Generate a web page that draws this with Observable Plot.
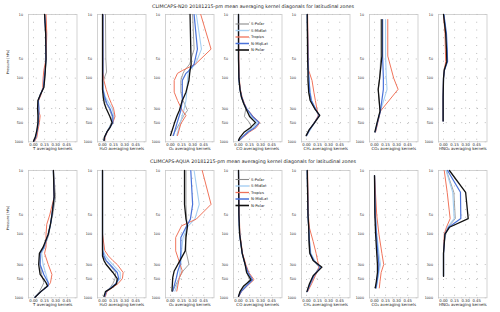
<!DOCTYPE html>
<html><head><meta charset="utf-8">
<script src="https://cdn.jsdelivr.net/npm/d3@7"></script>
<script src="https://cdn.jsdelivr.net/npm/@observablehq/plot@0.6"></script>
<style>
body{margin:0;background:#fff;}
#root{position:relative;width:500px;height:312px;background:#fff;font-family:"DejaVu Sans",sans-serif;overflow:hidden;}
.ttl{position:absolute;left:6px;width:494px;text-align:center;font-size:4.8px;line-height:5px;color:#222;white-space:nowrap;}
.pn{position:absolute;}
</style></head>
<body><div id="root"></div>
<script>
// ---------- labels ----------
const seriesNames = ["S-Polar", "S-Midlat", "Tropics", "N-MidLat", "N-Polar"];
const titles = ["CLIMCAPS-N20 20181215-pm mean averaging kernel diagonals for latitudinal zones",
                "CLIMCAPS-AQUA 20181215-pm mean averaging kernel diagonals for latitudinal zones"];
const panelLabels = ["T averaging kernels", "H\u2082O averaging kernels", "O\u2083 averaging kernels",
  "CO averaging kernels", "CH\u2084 averaging kernels", "CO\u2082 averaging kernels", "HNO\u2083 averaging kernels"];
const xTicks = [0, 0.15, 0.30, 0.45];
const yTicks = [10, 50, 100, 300, 500, 1000];

// ---------- N20 (values per series: S-Polar, S-Midlat, Tropics, N-MidLat, N-Polar) ----------
const n20_T_p = [10, 20, 50, 75, 100, 140, 185, 225, 300, 390, 500, 660, 850, 980];
const n20_T = [
  [0.16, 0.17, 0.17, 0.16, 0.15, 0.14, 0.09, 0.06, 0.06, 0.065, 0.06, 0.05, 0.03, 0.005],
  [0.16, 0.17, 0.17, 0.155, 0.145, 0.135, 0.09, 0.065, 0.065, 0.07, 0.065, 0.05, 0.035, 0.008],
  [0.17, 0.18, 0.17, 0.14, 0.13, 0.125, 0.10, 0.07, 0.06, 0.09, 0.08, 0.06, 0.045, 0.015],
  [0.15, 0.165, 0.168, 0.16, 0.145, 0.135, 0.09, 0.065, 0.075, 0.07, 0.065, 0.05, 0.03, 0.005],
  [0.15, 0.165, 0.17, 0.16, 0.153, 0.14, 0.09, 0.06, 0.055, 0.06, 0.06, 0.045, 0.023, 0.0]];
const n20_H2O_p = [10, 50, 80, 110, 150, 200, 250, 300, 400, 500, 600, 700, 850, 950];
const n20_H2O = [
  [0.04, 0.045, 0.055, 0.01, 0.005, 0.02, 0.05, 0.09, 0.13, 0.12, 0.09, 0.06, 0.03, 0.03],
  [0.01, 0.01, 0.01, 0.005, 0.01, 0.04, 0.09, 0.13, 0.16, 0.13, 0.09, 0.06, 0.03, 0.025],
  [0.005, 0.005, 0.005, 0.02, 0.05, 0.085, 0.12, 0.15, 0.17, 0.14, 0.10, 0.065, 0.035, 0.03],
  [0.005, 0.005, 0.005, 0.0, 0.005, 0.03, 0.06, 0.10, 0.14, 0.14, 0.10, 0.06, 0.03, 0.02],
  [0.0, 0.0, 0.0, 0.0, 0.0, 0.01, 0.025, 0.05, 0.10, 0.13, 0.10, 0.06, 0.025, 0.02]];
const n20_O3_p = [10, 35, 60, 76, 84, 109, 166, 224, 322, 386, 522, 796];
const n20_O3 = [
  [0.30, 0.32, 0.26, 0.19, 0.17, 0.14, 0.14, 0.17, 0.23, 0.18, 0.12, 0.03],
  [0.35, 0.42, 0.34, 0.25, 0.24, 0.23, 0.22, 0.21, 0.18, 0.16, 0.13, 0.085],
  [0.41, 0.55, 0.34, 0.16, 0.095, 0.05, 0.05, 0.095, 0.16, 0.21, 0.14, 0.095],
  [0.32, 0.365, 0.32, 0.25, 0.21, 0.16, 0.16, 0.16, 0.14, 0.12, 0.085, 0.04],
  [0.265, 0.275, 0.28, 0.265, 0.26, 0.25, 0.21, 0.16, 0.12, 0.09, 0.05, 0.0]];
const n20_CO_p = [10, 50, 100, 150, 200, 250, 300, 400, 500, 600, 700, 850, 950];
const n20_CO = [
  [0.0, 0.0, 0.005, 0.02, 0.04, 0.07, 0.10, 0.08, 0.15, 0.18, 0.12, 0.05, 0.01],
  [0.0, 0.0, 0.005, 0.02, 0.04, 0.07, 0.10, 0.17, 0.25, 0.20, 0.12, 0.05, 0.01],
  [0.0, 0.005, 0.01, 0.025, 0.05, 0.08, 0.11, 0.20, 0.29, 0.24, 0.15, 0.06, 0.015],
  [0.0, 0.0, 0.005, 0.02, 0.045, 0.075, 0.11, 0.19, 0.28, 0.22, 0.13, 0.05, 0.01],
  [0.0, 0.0, 0.005, 0.02, 0.04, 0.07, 0.10, 0.15, 0.23, 0.16, 0.08, 0.02, 0.0]];
const n20_CH4_p = [10, 50, 76, 109, 166, 224, 300, 386, 520, 650, 800];
const n20_CH4 = [
  [0.01, 0.02, 0.025, 0.025, 0.03, 0.05, 0.11, 0.17, 0.09, 0.04, 0.0],
  [0.01, 0.02, 0.025, 0.035, 0.05, 0.07, 0.12, 0.17, 0.10, 0.05, 0.0],
  [0.015, 0.025, 0.03, 0.075, 0.10, 0.12, 0.14, 0.16, 0.10, 0.04, 0.0],
  [0.01, 0.02, 0.025, 0.035, 0.045, 0.065, 0.12, 0.17, 0.10, 0.04, 0.0],
  [0.01, 0.015, 0.02, 0.02, 0.03, 0.05, 0.11, 0.18, 0.10, 0.035, -0.005]];
const n20_CO2_p = [12, 45, 100, 150, 330, 500, 700];
const n20_CO2 = [
  [0.085, 0.085, 0.07, 0.05, 0.075, 0.04, 0.01],
  [0.15, 0.15, 0.16, 0.17, 0.08, 0.04, 0.01],
  [0.18, 0.18, 0.26, 0.32, 0.08, 0.045, 0.015],
  [0.11, 0.11, 0.12, 0.12, 0.08, 0.04, 0.01],
  [0.10, 0.10, 0.07, 0.05, 0.075, 0.035, 0.005]];
const n20_HNO3_p = [10, 20, 35, 55, 75, 100, 200, 470];
const n20_HNO3 = [
  [0.0, 0.03, 0.04, 0.04, 0.01, 0.0, -0.005, -0.005],
  [0.005, 0.035, 0.045, 0.05, 0.01, 0.0, -0.005, -0.005],
  [0.0, 0.02, 0.025, 0.03, 0.01, 0.0, -0.005, -0.005],
  [0.005, 0.04, 0.05, 0.055, 0.012, 0.0, -0.005, -0.005],
  [0.0, 0.03, 0.04, 0.045, 0.01, 0.0, -0.005, -0.005]];

// ---------- AQUA ----------
const aqua_T_p = [10, 26, 50, 70, 100, 160, 200, 300, 430, 580, 650, 800, 980];
const aqua_T = [
  [0.27, 0.30, 0.26, 0.23, 0.21, 0.15, 0.10, 0.09, 0.11, 0.14, 0.12, 0.08, 0.02],
  [0.27, 0.28, 0.25, 0.23, 0.20, 0.15, 0.11, 0.13, 0.17, 0.20, 0.19, 0.10, 0.02],
  [0.27, 0.28, 0.22, 0.18, 0.17, 0.17, 0.15, 0.20, 0.25, 0.23, 0.20, 0.10, 0.03],
  [0.27, 0.28, 0.25, 0.23, 0.20, 0.14, 0.09, 0.09, 0.14, 0.20, 0.20, 0.10, 0.02],
  [0.27, 0.28, 0.25, 0.23, 0.20, 0.13, 0.08, 0.07, 0.09, 0.17, 0.19, 0.10, 0.02]];
const aqua_H2O_p = [10, 100, 180, 220, 260, 300, 400, 500, 600, 700, 800, 950];
const aqua_H2O = [
  [0.0, 0.0, 0.0, 0.01, 0.04, 0.09, 0.18, 0.17, 0.14, 0.10, 0.05, 0.03],
  [0.0, 0.0, 0.01, 0.04, 0.09, 0.14, 0.24, 0.24, 0.18, 0.12, 0.05, 0.03],
  [0.0, 0.0, 0.03, 0.08, 0.14, 0.20, 0.28, 0.27, 0.21, 0.13, 0.06, 0.04],
  [0.0, 0.0, 0.0, 0.02, 0.05, 0.10, 0.20, 0.22, 0.18, 0.11, 0.05, 0.03],
  [0.0, 0.0, 0.0, 0.0, 0.02, 0.05, 0.14, 0.20, 0.19, 0.12, 0.04, 0.02]];
const aqua_O3_p = [10, 34, 58, 74, 113, 183, 298, 379, 483, 785];
const aqua_O3 = [
  [0.21, 0.21, 0.22, 0.22, 0.20, 0.21, 0.25, 0.17, 0.12, 0.03],
  [0.32, 0.39, 0.33, 0.24, 0.17, 0.15, 0.14, 0.13, 0.12, 0.06],
  [0.43, 0.55, 0.35, 0.15, 0.07, 0.07, 0.13, 0.16, 0.12, 0.085],
  [0.275, 0.30, 0.27, 0.22, 0.14, 0.14, 0.13, 0.10, 0.08, 0.03],
  [0.19, 0.19, 0.21, 0.23, 0.21, 0.20, 0.10, 0.05, 0.03, 0.02]];
const aqua_CO_p = [10, 50, 100, 200, 300, 400, 520, 650, 800, 950];
const aqua_CO = [
  [0.0, 0.005, 0.015, 0.05, 0.09, 0.11, 0.15, 0.09, 0.03, 0.0],
  [0.0, 0.005, 0.015, 0.05, 0.09, 0.12, 0.17, 0.10, 0.03, 0.0],
  [0.0, 0.01, 0.02, 0.055, 0.10, 0.14, 0.21, 0.12, 0.04, 0.005],
  [0.0, 0.005, 0.015, 0.05, 0.09, 0.13, 0.19, 0.11, 0.035, 0.0],
  [0.0, 0.005, 0.015, 0.05, 0.09, 0.11, 0.17, 0.07, 0.02, 0.0]];
const aqua_CH4_p = [10, 50, 80, 130, 200, 260, 330, 450, 600, 800];
const aqua_CH4 = [
  [0.01, 0.02, 0.03, 0.03, 0.04, 0.09, 0.17, 0.10, 0.05, 0.01],
  [0.01, 0.02, 0.03, 0.04, 0.06, 0.11, 0.18, 0.11, 0.06, 0.01],
  [0.015, 0.025, 0.04, 0.09, 0.13, 0.15, 0.17, 0.12, 0.07, 0.015],
  [0.01, 0.02, 0.03, 0.04, 0.05, 0.10, 0.19, 0.10, 0.05, 0.01],
  [0.01, 0.02, 0.03, 0.035, 0.045, 0.09, 0.21, 0.09, 0.04, 0.005]];
const aqua_CO2_p = [12, 50, 100, 200, 300, 400, 550, 700];
const aqua_CO2 = [
  [0.0, 0.01, 0.025, 0.04, 0.06, 0.05, 0.03, 0.02],
  [0.0, 0.015, 0.03, 0.06, 0.08, 0.06, 0.04, 0.025],
  [0.0, 0.03, 0.06, 0.10, 0.125, 0.09, 0.075, 0.065],
  [0.0, 0.01, 0.025, 0.045, 0.06, 0.05, 0.035, 0.02],
  [0.0, 0.005, 0.015, 0.03, 0.04, 0.04, 0.025, 0.01]];
const aqua_HNO3_p = [10, 22, 57, 78, 100, 200, 460];
const aqua_HNO3 = [
  [0.04, 0.14, 0.16, 0.06, 0.02, 0.0, 0.0],
  [0.035, 0.125, 0.145, 0.055, 0.015, 0.0, 0.0],
  [0.01, 0.05, 0.09, 0.04, 0.01, 0.0, 0.0],
  [0.055, 0.23, 0.235, 0.07, 0.02, 0.0, 0.0],
  [0.08, 0.30, 0.335, 0.08, 0.02, 0.0, 0.0]];

// ---------- styling ----------
const COLORS = ["#8a8a8a", "#a6cff2", "#f0735a", "#4a72d9", "#111111"];
const WIDTHS = [0.8, 1.1, 1.0, 1.2, 1.3];

const rows = [
  [[n20_T_p, n20_T], [n20_H2O_p, n20_H2O], [n20_O3_p, n20_O3], [n20_CO_p, n20_CO],
   [n20_CH4_p, n20_CH4], [n20_CO2_p, n20_CO2], [n20_HNO3_p, n20_HNO3]],
  [[aqua_T_p, aqua_T], [aqua_H2O_p, aqua_H2O], [aqua_O3_p, aqua_O3], [aqua_CO_p, aqua_CO],
   [aqua_CH4_p, aqua_CH4], [aqua_CO2_p, aqua_CO2], [aqua_HNO3_p, aqua_HNO3]]
];

const root = document.getElementById("root");
const frameTop = [14, 169.5];
const frameH = 127.3;
const mT = 2, mB = 17, mL = 20;
const frameW = 48.5;
const step = 68.2, left0 = 28.3;
const titleY = [3.6, 159.2];

rows.forEach((row, r) => {
  const t = document.createElement("div");
  t.className = "ttl";
  t.style.top = titleY[r] + "px";
  t.textContent = titles[r];
  root.appendChild(t);

  row.forEach(([levels, vals], i) => {
    const marks = [
      Plot.gridX(xTicks, {stroke: "#9a9a9a", strokeOpacity: 1, strokeWidth: 0.8, strokeDasharray: "0.8,7"}),
      Plot.gridY(yTicks, {stroke: "#9a9a9a", strokeOpacity: 1, strokeWidth: 0.8, strokeDasharray: "0.8,7"}),
      Plot.frame({stroke: "#c8c8c8", strokeWidth: 0.8}),
      Plot.axisX(xTicks, {tickFormat: d3.format(".2f"), tickSize: 0, tickPadding: 1.3, fontSize: 3.8, label: null, fill: "#222"}),
      // y tick labels drawn as text through the y scale
      Plot.text(yTicks, {y: d => d, text: d => String(d), frameAnchor: "left", textAnchor: "end", dx: -5.5, fontSize: 3.3, fill: "#222"}),
      Plot.text([panelLabels[i]], {text: d => d, frameAnchor: "bottom", dy: 8.3, fontSize: 4, fill: "#222"})
    ];
    if (i === 0) {
      marks.push(Plot.text(["Pressure [hPa]"], {text: d => d, frameAnchor: "left", rotate: -90, dx: -21, dy: -4, fontSize: 3.4, fill: "#222"}));
    }
    vals.forEach((v, k) => {
      const data = levels.map((p, j) => ({p, v: v[j], s: seriesNames[k]}));
      marks.push(Plot.line(data, {x: "v", y: "p", stroke: COLORS[k], strokeWidth: WIDTHS[k], strokeLinejoin: "round"}));
    });
    const svg = Plot.plot({
      width: mL + frameW, height: mT + frameH + mB,
      marginLeft: mL, marginRight: 0, marginTop: mT, marginBottom: mB,
      x: {domain: [-0.068, 0.59]},
      y: {type: "log", domain: [10, 1000], reverse: true, axis: null},
      style: {background: "transparent", overflow: "visible", fontFamily: "DejaVu Sans", maxWidth: "none"},
      marks
    });
    const wrap = document.createElement("div");
    wrap.className = "pn";
    wrap.style.left = (left0 + step * i - mL) + "px";
    wrap.style.top = (frameTop[r] - mT) + "px";
    wrap.style.width = (mL + frameW) + "px";
    wrap.appendChild(svg);
    root.appendChild(wrap);
  });
});

// ---------- legend (inside CO panel) ----------
const leg = d3.select(root).append("svg")
  .attr("width", 500).attr("height", 312)
  .style("position", "absolute").style("left", "0px").style("top", "0px")
  .style("overflow", "visible").style("pointer-events", "none");
const legRows = [0, 6.5, 13, 19.5, 26];
frameTop.forEach(ft => {
  seriesNames.forEach((name, k) => {
    const y = ft + 10 + legRows[k];
    const g = leg.append("g");
    g.append("line").attr("x1", 235.5).attr("x2", 249).attr("y1", y).attr("y2", y)
      .attr("stroke", COLORS[k]).attr("stroke-width", WIDTHS[k] + 0.3);
    g.append("text").attr("x", 251).attr("y", y).attr("dy", "0.35em")
      .attr("font-size", 3.8).attr("font-family", "DejaVu Sans").attr("fill", "#222").text(name);
  });
});
</script></body></html>
